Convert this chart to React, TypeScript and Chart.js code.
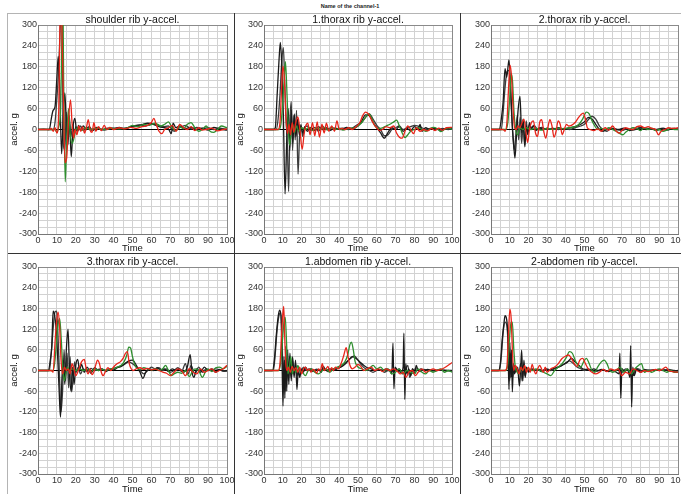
import React, { useEffect, useRef } from 'react';
import { Chart, registerables } from 'chart.js';

Chart.register(...registerables);

type Pt = [number, number];

const chartTitle = 'Name of the channel-1';
const panelTitles = [
  'shoulder rib y-accel.',
  '1.thorax rib y-accel.',
  '2.thorax rib y-accel.',
  '3.thorax rib y-accel.',
  '1.abdomen rib y-accel.',
  '2-abdomen rib y-accel.',
];
const xAxisTitle = 'Time';
const yAxisTitle = 'accel. g';
const timeMin = 0;
const timeMax = 100;
const timeGridStep = 5;
const timeLabelStep = 10;
const accelMin = -300;
const accelMax = 300;
const accelGridStep = 20;
const accelLabelStep = 60;

const seriesColors = ['#e8251a', '#2f8f2f', '#1a1a1a', '#3c3c3c'];

// ---------- shoulder rib ----------
const shoulderRed: Pt[] = [[0,0],[6,0],[7,3],[8,-5],[9,5],[10,-10],[11,60],[11.6,300],[12.2,450],[12.8,250],[13.5,80],[14.3,-95],[15.2,-80],[16.2,30],[17.2,85],[18,20],[18.8,-25],[19.6,0],[20.6,-15],[21.6,10],[22.6,-5],[23.6,8],[24.6,-10],[25.6,5],[26.6,28],[27.6,-2],[28.6,-8],[29.6,20],[30.6,-5],[32,8],[33.5,-3],[35,12],[36.5,0],[38,6],[40,0],[43,5],[46,2],[49,6],[52,3],[55,8],[58,12],[60,20],[61.3,32],[62.5,15],[64,-5],[65.5,-12],[67,0],[69,5],[71,12],[73,-5],[75,15],[77,5],[79,0],[81,8],[83,-3],[85,5],[87,-2],[89,0],[92,4],[95,-4],[98,0],[100,2]];
const shoulderGreen: Pt[] = [[0,0],[9,0],[10,-8],[11,8],[12,60],[12.6,250],[13.1,400],[13.6,120],[14.4,-150],[15.2,-30],[16.1,60],[17,-10],[18,-40],[18.8,-30],[19.8,-5],[21,5],[23,-3],[25,5],[28,0],[31,4],[35,0],[39,3],[43,2],[47,4],[50,12],[53,8],[56,15],[59,12],[62,18],[65,10],[67,15],[69,22],[71,5],[73,-3],[75,8],[77,2],[79,15],[81,20],[83,5],[85,-5],[87,0],[89,10],[91,-5],[93,-8],[95,0],[97,10],[100,5]];
const shoulderBlackA: Pt[] = [[0,0],[3,1],[6,0],[7,30],[8,55],[9,65],[10,150],[10.7,210],[11.5,120],[12.5,-70],[13.3,30],[14.2,105],[15,10],[15.8,-45],[16.6,25],[17.6,-78],[18.5,5],[19.5,32],[20.5,-5],[21.5,12],[22.5,-2],[24,10],[25.5,0],[27,8],[29,-3],[31,6],[34,0],[37,4],[40,3],[43,6],[46,2],[49,8],[52,12],[55,14],[58,18],[61,15],[64,8],[67,5],[69,2],[70.5,-12],[71.5,18],[73,5],[75,10],[78,3],[81,6],[84,0],[87,4],[90,-2],[93,6],[96,2],[100,-2]];
const shoulderBlackB: Pt[] = [[0,0],[8,0],[9,20],[10,90],[11,180],[12,330],[12.6,380],[13.4,-40],[14.2,-60],[15,50],[15.8,-30],[16.5,40],[17.4,-20],[18.4,15],[19.2,-15],[20,8],[21,-5],[22.5,10],[24,-3],[26,6],[28,-2],[31,5],[35,-2],[39,4],[43,2],[47,5],[51,8],[54,12],[57,10],[60,16],[63,14],[66,8],[69,10],[72,-5],[75,5],[78,12],[81,2],[84,6],[87,3],[90,5],[93,0],[96,4],[100,0]];

// ---------- 1.thorax rib ----------
const thorax1Red: Pt[] = [[0,0],[7.5,0],[8.5,20],[9.3,110],[10.1,182],[10.9,140],[11.7,30],[12.5,-12],[13.3,15],[14.1,-15],[15,20],[15.9,-8],[16.9,20],[18,36],[19,5],[20.3,-57],[21.3,-15],[22.3,12],[23.3,18],[24.5,-15],[25.8,20],[27,-18],[28.3,22],[29.5,-22],[30.8,15],[32,-10],[33.2,18],[34.5,-5],[36,10],[37.5,-5],[38.8,25],[40,0],[41.5,3],[43,0],[45,5],[47,0],[49,8],[51,20],[52.5,40],[54,50],[55.5,45],[57,30],[58.5,15],[60,5],[61.5,-3],[63,0],[65,8],[67,5],[69,10],[70.5,-10],[72,-22],[73.5,-25],[75,-5],[76.5,10],[78,0],[79.5,-12],[81,5],[83,-5],[85,0],[87,-4],[89,3],[91,-3],[93,4],[95,-2],[97,5],[100,6]];
const thorax1Green: Pt[] = [[0,0],[8,0],[9,15],[10,80],[10.8,150],[11.4,195],[12.1,120],[12.8,20],[13.6,-45],[14.4,-10],[15.3,15],[16.2,-10],[17.2,10],[18.5,-5],[20,5],[22,0],[24,6],[26,-3],[28,5],[30,0],[32,6],[34,-2],[36,5],[38,0],[40,3],[42,-2],[45,3],[48,5],[50,10],[52,20],[54,35],[56,45],[57.5,30],[59,10],[61,3],[63,5],[65,10],[67,15],[69,22],[70.5,27],[72,10],[73.5,-10],[75,-23],[76.5,-15],[78,-5],[80,0],[82,5],[84,0],[86,-5],[88,0],[90,6],[92,3],[94,-6],[96,0],[98,5],[100,0]];
const thorax1BlackA: Pt[] = [[0,0],[5,0],[6,5],[7,100],[8,200],[8.7,250],[9.5,180],[10.3,40],[11.2,-185],[12.1,-30],[12.9,60],[13.7,-60],[14.5,55],[15.3,-40],[16.1,45],[17,-20],[17.9,30],[18.8,-15],[19.6,10],[20.6,-10],[21.6,8],[23,-5],[25,6],[27,-3],[29,8],[31,0],[33,5],[35,-3],[38,4],[41,0],[44,6],[47,3],[50,10],[52,25],[54,42],[56,40],[58,20],[60,5],[62,-10],[64,-25],[66,-8],[68,5],[70,0],[72,8],[74,-5],[76,3],[78,-3],[80,8],[82,2],[83,15],[84,-5],[86,5],[88,0],[91,3],[94,-2],[97,3],[100,2]];
const thorax1BlackB: Pt[] = [[0,0],[6.5,0],[7.5,30],[8.5,100],[9.5,200],[10.3,235],[11,140],[11.8,20],[12.4,-40],[13.1,-178],[13.8,20],[14.5,80],[15.2,-60],[15.9,40],[16.6,-30],[17.3,55],[18.1,-128],[18.9,-20],[19.7,15],[20.6,-20],[21.6,5],[23,10],[25,-3],[27,6],[29,-5],[31,10],[33,0],[36,5],[39,2],[42,4],[45,0],[48,8],[50,15],[52,20],[54,35],[56,45],[58,30],[60,12],[62,0],[64,-18],[66,-15],[68,0],[70,5],[72,10],[74,0],[76,5],[78,8],[80,12],[82,10],[84,5],[86,0],[89,4],[92,0],[95,3],[98,0],[100,2]];

// ---------- 2.thorax rib ----------
const thorax2Red: Pt[] = [[0,0],[6.5,0],[7.5,-5],[8.5,20],[9.4,120],[10.2,185],[11,150],[11.8,60],[12.6,5],[13.4,0],[14.4,10],[15.4,5],[16.5,18],[17.6,30],[18.6,-5],[19.6,-37],[20.6,0],[21.6,20],[22.7,25],[23.8,-10],[24.9,-20],[26,20],[27.1,28],[28.2,-5],[29.3,-25],[30.4,5],[31.5,28],[32.6,10],[33.7,-22],[34.8,-5],[35.9,25],[37,15],[38.1,-15],[39.2,0],[40.3,15],[41.5,10],[43,12],[45,20],[46.5,32],[48,42],[49.3,47],[50.5,30],[51.5,5],[53,0],[55,-3],[57,2],[59,-5],[61,5],[63,-2],[65,10],[67,-5],[68.5,-10],[70,-3],[72,5],[74,2],[76,0],[78,8],[80,10],[82,5],[84,8],[86,3],[88,0],[89.5,-15],[91,-5],[93,0],[95,5],[97,3],[100,5]];
const thorax2Green: Pt[] = [[0,0],[8,0],[9,20],[10,90],[10.8,160],[11.5,140],[12.3,50],[13.2,0],[14.2,-15],[15.5,5],[17,0],[19,5],[21,0],[24,3],[27,-2],[30,3],[33,0],[36,4],[39,2],[42,5],[45,8],[47,15],[49,30],[51,50],[52.5,45],[54,25],[55.5,10],[57,0],[59,3],[61,0],[63,5],[65,0],[67,-5],[69,-12],[70.5,-15],[72,-8],[74,0],[76,5],[78,3],[80,-3],[82,5],[84,0],[86,3],[88,-3],[90,0],[92,-5],[94,-2],[96,3],[98,0],[100,0]];
const thorax2BlackA: Pt[] = [[0,0],[4.5,0],[5.5,30],[6.5,80],[7.5,175],[8.4,150],[9.6,200],[10.5,120],[11.3,20],[12.1,-40],[12.8,-82],[13.6,-20],[14.4,50],[15.5,95],[16.4,-10],[17.2,30],[18.1,-50],[18.9,10],[19.7,-15],[20.6,20],[21.6,0],[22.6,10],[24,-3],[26,5],[28,0],[30,4],[33,0],[36,5],[39,2],[42,5],[45,8],[48,15],[50,22],[52,35],[54,30],[56,15],[58,0],[60,-5],[62,0],[65,3],[68,0],[71,4],[74,-3],[77,2],[80,5],[83,0],[86,3],[89,-2],[92,4],[95,0],[98,3],[100,0]];
const thorax2BlackB: Pt[] = [[0,0],[5.5,0],[6.5,50],[7.5,120],[8.5,165],[9.3,170],[10.1,145],[10.9,60],[11.6,-10],[12.4,-60],[13.2,-20],[14,40],[14.8,-30],[15.6,35],[16.4,-40],[17.2,20],[18,-45],[18.8,25],[19.6,-5],[20.6,15],[21.6,5],[23,12],[25,0],[27,6],[30,0],[33,4],[36,0],[39,3],[42,0],[45,5],[48,10],[50,15],[52,28],[54,38],[56,30],[58,10],[60,0],[62,-5],[64,3],[67,0],[70,-3],[73,2],[76,-2],[79,3],[82,5],[85,2],[88,0],[91,3],[94,-2],[97,3],[100,2]];

// ---------- 3.thorax rib ----------
const thorax3Red: Pt[] = [[0,0],[7,0],[8,-5],[9,80],[9.8,140],[10.6,170],[11.4,130],[12.2,30],[13,-10],[14,10],[15,0],[16,5],[17,-10],[18,20],[19,5],[20,-15],[21,-5],[22,10],[23,25],[24.5,32],[25.5,5],[26.5,-10],[27.5,5],[28.5,-12],[29.5,-5],[30.5,15],[31.5,30],[32.5,20],[33.5,-5],[34.5,-15],[35.5,-5],[37,8],[38.5,0],[40,10],[42,20],[43.5,25],[45,35],[46.3,50],[47.3,55],[48.3,20],[49.3,5],[50.5,0],[52,5],[54,8],[56,3],[58,6],[60,2],[62,4],[64,0],[66,-5],[68,-8],[70,-15],[72,-5],[74,5],[76,0],[78,-15],[80,5],[82,-5],[84,-10],[86,5],[88,-5],[90,0],[92,5],[94,-5],[96,0],[98,5],[100,15]];
const thorax3Green: Pt[] = [[0,0],[8,0],[9,30],[10,100],[10.8,140],[11.5,150],[12.3,90],[13.1,10],[13.9,-30],[14.7,-10],[15.6,10],[16.6,0],[18,5],[20,0],[22,5],[24,0],[26,3],[28,-3],[30,5],[32,0],[34,3],[36,0],[38,5],[40,5],[42,10],[44,15],[45.5,25],[47,45],[48,68],[49,65],[50,40],[51,20],[52.5,5],[54,3],[56,8],[58,5],[60,2],[62,5],[64,0],[66,5],[67.5,15],[69,0],[70.5,-15],[72,-10],[74,-5],[76,-8],[78,0],[80,-18],[81.5,-5],[83,5],[85,0],[87,-20],[88.5,-5],[90,5],[92,-3],[94,8],[96,10],[98,5],[100,12]];
const thorax3BlackA: Pt[] = [[0,0],[5.5,0],[6.5,30],[7.3,70],[8,172],[8.8,160],[9.6,120],[10.4,40],[11.2,-60],[11.9,-135],[12.7,-20],[13.4,30],[14.2,-40],[15,60],[15.9,120],[16.7,-10],[17.5,-60],[18.3,10],[19.1,-40],[20,15],[21,32],[22,0],[23,18],[24.5,-5],[26,10],[28,-8],[30,8],[32,0],[34,5],[36,-3],[38,4],[40,2],[42,8],[44,12],[46,20],[48,28],[50,30],[52,15],[54,-5],[55.5,-23],[57,-5],[59,5],[61,0],[63,8],[65,2],[67,5],[69,-3],[71,5],[73,0],[75,5],[77,-5],[79,10],[80.5,46],[81.5,-5],[82.5,-20],[84,5],[86,-5],[88,10],[90,0],[92,5],[94,-5],[96,3],[98,-2],[100,0]];
const thorax3BlackB: Pt[] = [[0,0],[6,0],[7,50],[8,120],[9,170],[9.8,172],[10.6,100],[11.4,-20],[12.2,-120],[13,-60],[13.8,60],[14.6,-30],[15.4,50],[16.2,-50],[17,40],[17.8,-62],[18.6,-20],[19.4,25],[20.3,-5],[21.3,10],[22.5,-10],[24,5],[26,-3],[28,6],[30,0],[33,5],[36,0],[39,5],[42,10],[45,15],[48,25],[50,20],[52,10],[54,0],[56,-10],[58,0],[60,10],[62,5],[64,8],[66,0],[68,5],[70,-5],[72,0],[74,8],[76,-3],[78,20],[79.5,-10],[81,15],[83,-10],[85,10],[87,-5],[89,5],[91,0],[94,5],[97,0],[100,-2]];

// ---------- 1.abdomen rib ----------
const abdomen1Red: Pt[] = [[0,0],[7.5,0],[8.5,20],[9.3,100],[10.1,170],[10.5,186],[11,100],[11.6,20],[12.3,0],[13,10],[14,-5],[15,12],[16,0],[17,8],[18,-5],[19,10],[20,-10],[21,5],[22,10],[23,0],[24,5],[25,-5],[26,3],[27,0],[28,-8],[29,5],[30,0],[31,20],[32,0],[33,5],[34,12],[35,-3],[36,8],[37,0],[38,10],[39.5,5],[41,20],[42.5,45],[43.7,66],[44.7,40],[45.7,15],[47,5],[48.5,10],[50,18],[51.5,12],[53,0],[55,5],[57,10],[59,0],[61,5],[63,-3],[65,5],[67,0],[69,5],[71,-3],[72.5,-10],[74,-5],[75.5,-20],[77,-5],[79,0],[80.5,-15],[82,-5],[84,5],[86,-5],[88,0],[90,5],[92,0],[94,3],[96,8],[98,15],[100,23]];
const abdomen1Green: Pt[] = [[0,0],[8,0],[9,30],[10,100],[10.8,150],[11.3,155],[12,80],[12.7,-10],[13.5,10],[14.3,40],[15,-10],[16,5],[17,-5],[18,15],[19,0],[20.5,-5],[22,-15],[23.5,0],[25,5],[27,-5],[29,-10],[31,0],[33,5],[35,-5],[37,5],[39,10],[41,15],[43,25],[44.5,45],[45.7,75],[46.5,82],[47.5,60],[48.5,25],[50,10],[52,5],[54,0],[56,5],[58,15],[60,5],[62,10],[64,0],[66,5],[68,-10],[70,-5],[72,5],[74,-10],[76,0],[78,-5],[80,-10],[82,5],[84,-5],[86,-10],[88,0],[90,-5],[92,0],[94,5],[96,-5],[98,0],[100,-5]];
const abdomen1BlackA: Pt[] = [[0,0],[4.5,0],[5.5,30],[6.5,100],[7.5,155],[8.3,175],[9,160],[9.5,60],[10.1,-103],[10.6,40],[11.1,-80],[11.6,70],[12.1,-60],[12.6,60],[13.2,-40],[13.8,50],[14.5,-30],[15.2,40],[16,-20],[16.8,30],[17.5,-55],[18.3,5],[19,-20],[20,5],[21,-5],[22,10],[23.5,0],[25,5],[27,0],[29,3],[30.5,-5],[31.5,12],[33,0],[35,5],[37,0],[39,5],[41,10],[43,18],[45,30],[47,40],[49,35],[51,25],[53,15],[55,8],[57,5],[59,0],[61,3],[63,0],[65,5],[67,0],[68,-10],[68.6,79],[69.1,-53],[69.7,10],[71,0],[73,-5],[74,10],[74.4,108],[74.9,-84],[75.4,20],[76,-10],[77,5],[78,-15],[79,5],[80,-10],[81,15],[82,0],[83.5,5],[85,0],[87,3],[90,0],[93,2],[96,0],[100,0]];
const abdomen1BlackB: Pt[] = [[0,0],[5,0],[6,50],[7,120],[8,160],[8.8,168],[9.6,100],[10.3,-50],[10.9,30],[11.5,-60],[12.2,20],[12.9,-30],[13.6,40],[14.4,-20],[15.2,30],[16,-10],[16.8,20],[17.6,-15],[18.5,10],[19.5,-5],[21,10],[22.5,0],[24,5],[26,-3],[28,4],[30,0],[32,5],[34,-3],[36,3],[38,5],[40,8],[42,15],[44,25],[46,35],[48,42],[50,30],[52,15],[54,5],[56,0],[58,-5],[60,0],[62,3],[64,-5],[66,0],[68,-3],[70,0],[72,5],[73.5,-10],[75,0],[76.5,15],[77.5,-20],[79,0],[81,5],[83,-3],[85,3],[88,0],[91,-2],[94,2],[97,0],[100,-2]];

// ---------- 2-abdomen rib ----------
const abdomen2Red: Pt[] = [[0,0],[7.5,0],[8.5,10],[9.3,100],[10.1,178],[10.8,150],[11.5,50],[12.2,0],[13,15],[14,5],[15,-10],[16,10],[17,0],[18,15],[19,-5],[20,10],[21,-5],[22,18],[23,0],[24,-10],[25,5],[26,15],[27,5],[28,-5],[29,10],[30,-5],[32,5],[34,10],[36,20],[38,35],[40,42],[41.5,45],[43,35],[44.5,20],[46,12],[47.5,30],[49,35],[50.5,20],[52,5],[54,-5],[56,-10],[58,-5],[60,3],[62,-3],[64,5],[66,0],[68,5],[70,-15],[72,-5],[74,-10],[76,5],[78,0],[80,-5],[82,0],[84,-3],[86,0],[88,3],[90,0],[92,5],[93.5,10],[95,0],[97,-3],[100,-5]];
const abdomen2Green: Pt[] = [[0,0],[8,0],[9,20],[10,100],[10.7,140],[11.4,140],[12.2,60],[13,10],[14,-5],[15,-10],[16,5],[17,0],[18,10],[19,0],[20,5],[22,0],[24,5],[26,0],[28,-5],[30,-10],[32,-15],[34,0],[36,10],[38,20],[40,35],[42,55],[43.5,50],[45,30],[46.5,15],[48,10],[49.5,25],[51,35],[52.5,20],[54,0],[55.5,-5],[57,10],[59,25],[60.5,30],[62,20],[63.5,0],[65,-5],[67,0],[69,10],[71,-5],[73,5],[75,-10],[77,5],[79,15],[80.5,20],[82,-5],[84,0],[86,-5],[88,0],[90,5],[92,0],[94,-5],[96,0],[98,-5],[100,-5]];
const abdomen2BlackA: Pt[] = [[0,0],[4,0],[5,20],[6,90],[7,140],[7.5,159],[8.3,150],[9,100],[9.6,-55],[10.1,80],[10.6,-20],[11,60],[11.4,-62],[12,20],[12.6,-10],[13.5,10],[14.5,-5],[15.2,-45],[15.8,0],[16.4,59],[17,-30],[17.6,30],[18.3,-20],[19,10],[20,-5],[21.5,5],[23,0],[25,3],[27,-3],[29,5],[31,0],[33,5],[35,8],[37,12],[39,18],[41,25],[43,35],[45,25],[47,15],[49,5],[51,3],[53,0],[55,5],[57,0],[59,3],[61,0],[63,-3],[65,0],[67,-5],[68.5,-10],[68.9,50],[69.4,-80],[70,5],[71.5,-3],[73,5],[74.3,-20],[74.7,72],[75.2,-106],[75.8,10],[76.5,-15],[78,5],[80,-5],[82,3],[84,0],[87,2],[90,0],[93,2],[96,-2],[100,0]];
const abdomen2BlackB: Pt[] = [[0,0],[4.5,0],[5.5,40],[6.5,110],[7.5,140],[8.5,130],[9.3,60],[10,-30],[10.8,40],[11.6,-20],[12.4,15],[13.2,-5],[14.2,10],[15,-10],[15.8,20],[16.6,-30],[17.4,10],[18.2,-15],[19.2,5],[20.5,-3],[22,5],[24,0],[26,3],[28,-2],[30,5],[32,0],[34,5],[36,10],[38,15],[40,22],[42,28],[44,20],[46,10],[48,5],[50,0],[52,5],[54,0],[56,-3],[58,0],[60,3],[62,-2],[64,2],[66,0],[68,3],[70,-5],[72,5],[74,-3],[76,-15],[77,0],[79,5],[81,-3],[83,2],[86,0],[89,3],[92,0],[95,3],[98,0],[100,-2]];

const panelSeries: Pt[][][] = [
  [shoulderRed, shoulderGreen, shoulderBlackA, shoulderBlackB],
  [thorax1Red, thorax1Green, thorax1BlackA, thorax1BlackB],
  [thorax2Red, thorax2Green, thorax2BlackA, thorax2BlackB],
  [thorax3Red, thorax3Green, thorax3BlackA, thorax3BlackB],
  [abdomen1Red, abdomen1Green, abdomen1BlackA, abdomen1BlackB],
  [abdomen2Red, abdomen2Green, abdomen2BlackA, abdomen2BlackB],
];

// ---------- layout ----------
const colLeft = [8, 234, 460];
const colWidth = [226, 226, 221];
const rowTop = [13, 253];
const rowHeight = [240, 241];
const plotLeftInset = [30, 30, 31];
const plotRightInset = [7, 8, 3];
const plotTopInset = [12, 14];
const xAxisHeight = [19, 20];
const titleCenterY = [7, 9];

const FONT = '"Liberation Sans", Arial, Helvetica, sans-serif';

const panelTitlePlugin = {
  id: 'panelTitle',
  afterDraw(chart: any, _args: any, opts: any) {
    const { ctx, chartArea } = chart;
    ctx.save();
    ctx.font = `10.5px ${FONT}`;
    ctx.fillStyle = '#111';
    ctx.textAlign = 'center';
    ctx.textBaseline = 'middle';
    ctx.fillText(opts.text, (chartArea.left + chartArea.right) / 2, opts.y);
    ctx.restore();
  },
};

function Panel({ index }: { index: number }) {
  const ref = useRef<HTMLCanvasElement>(null);
  const col = index % 3;
  const row = Math.floor(index / 3);
  useEffect(() => {
    if (!ref.current) return;
    const series = panelSeries[index];
    const chart = new Chart(ref.current, {
      type: 'line',
      data: {
        datasets: series.map((pts, i) => ({
          data: pts.map(([x, y]) => ({ x, y })),
          borderColor: seriesColors[i],
          borderWidth: 1.3,
          pointRadius: 0,
          fill: false,
          cubicInterpolationMode: 'monotone' as const,
        })),
      },
      plugins: [panelTitlePlugin],
      options: {
        responsive: false,
        animation: false,
        devicePixelRatio: 1,
        events: [],
        layout: { padding: { left: 0, right: plotRightInset[col], top: plotTopInset[row], bottom: 0 } },
        plugins: {
          legend: { display: false },
          tooltip: { enabled: false },
          title: { display: false },
          panelTitle: { text: panelTitles[index], y: titleCenterY[row] },
        } as any,
        scales: {
          x: {
            type: 'linear',
            min: timeMin,
            max: timeMax,
            afterFit: (s: any) => {
              s.height = xAxisHeight[row];
              s.paddingLeft = 0;
              s.paddingRight = 0;
            },
            ticks: {
              stepSize: timeGridStep,
              autoSkip: false,
              maxRotation: 0,
              padding: 1,
              color: '#333',
              font: { family: FONT, size: 9 },
              callback: (v: any) => (Number(v) % timeLabelStep === 0 ? String(v) : ''),
            },
            grid: {
              drawTicks: false,
              lineWidth: 1,
              color: (c: any) => {
                const v = c.tick?.value;
                return v === timeMin || v === timeMax ? '#8a8a8a' : '#d2d2d2';
              },
            },
            border: { color: '#777' },
            title: {
              display: true,
              text: xAxisTitle,
              padding: 0,
              color: '#111',
              font: { family: FONT, size: 9.5, lineHeight: 1 },
            },
          },
          y: {
            type: 'linear',
            min: accelMin,
            max: accelMax,
            afterFit: (s: any) => {
              s.width = plotLeftInset[col];
              s.paddingTop = 0;
              s.paddingBottom = 0;
            },
            ticks: {
              stepSize: accelGridStep,
              autoSkip: false,
              padding: 1,
              color: '#333',
              font: { family: FONT, size: 9 },
              callback: (v: any) => (Number(v) % accelLabelStep === 0 ? String(v) : ''),
            },
            grid: {
              drawTicks: false,
              lineWidth: 1,
              color: (c: any) => {
                const v = c.tick?.value;
                if (v === 0) return '#000';
                return v === accelMin || v === accelMax ? '#8a8a8a' : '#d2d2d2';
              },
            },
            border: { color: '#777' },
            title: {
              display: true,
              text: yAxisTitle,
              padding: { top: 2, bottom: 0 },
              color: '#111',
              font: { family: FONT, size: 9.5, lineHeight: 1 },
            },
          },
        },
      } as any,
    });
    return () => chart.destroy();
  }, [index]);
  return (
    <canvas
      ref={ref}
      width={colWidth[col]}
      height={rowHeight[row]}
      style={{
        position: 'absolute',
        left: colLeft[col],
        top: rowTop[row],
        width: colWidth[col],
        height: rowHeight[row],
        display: 'block',
      }}
    />
  );
}

export default function App() {
  const line = (left: number, top: number, width: number, height: number, color: string) => (
    <div style={{ position: 'absolute', left, top, width, height, background: color }} />
  );
  return (
    <div style={{ position: 'fixed', left: 0, top: 0, width: 681, height: 494, background: '#fff', overflow: 'hidden' }}>
      <div
        style={{
          position: 'absolute',
          left: 250,
          top: 2,
          width: 200,
          textAlign: 'center',
          fontFamily: FONT,
          fontSize: 5.5,
          fontWeight: 'bold',
          lineHeight: '8px',
          color: '#222',
        }}
      >
        {chartTitle}
      </div>
      {[0, 1, 2, 3, 4, 5].map((i) => (
        <Panel key={i} index={i} />
      ))}
      {line(8, 13, 673, 1, '#b4b4b4')}
      {line(7, 13, 1, 481, '#b4b4b4')}
      {line(234, 13, 1, 481, '#333')}
      {line(460, 13, 1, 481, '#333')}
      {line(8, 253, 673, 1, '#333')}
    </div>
  );
}
